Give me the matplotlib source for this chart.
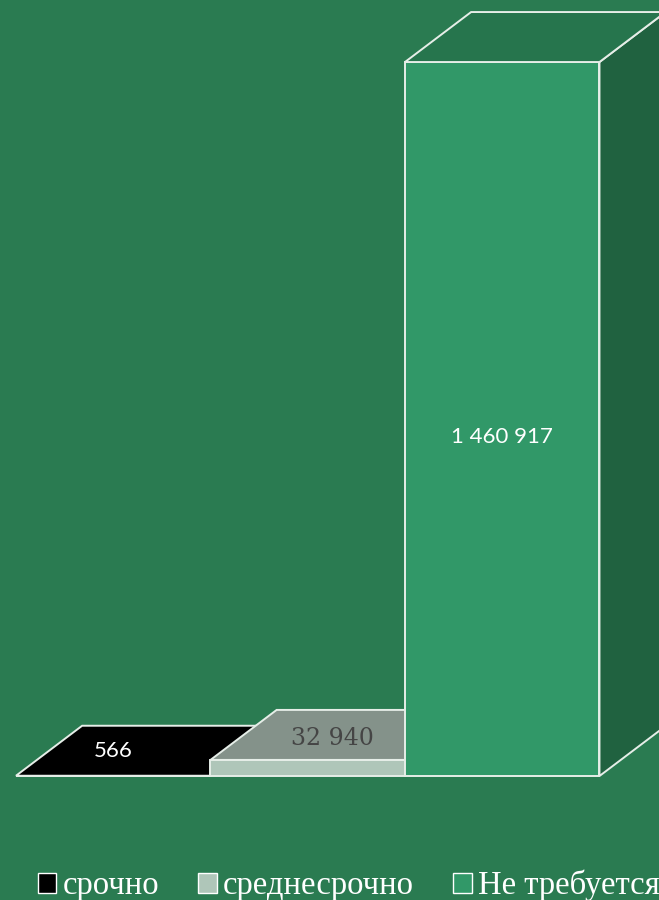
import matplotlib.pyplot as plt
from matplotlib.patches import Polygon, Patch

# data
categories = ["срочно", "среднесрочно", "Не требуется"]
values = [566, 32940, 1460917]
labels = ["566", "32 940", "1 460 917"]

front_colors = ["#000000", "#afc6b9", "#319868"]
top_colors = ["#000000", "#84928a", "#26754d"]
side_colors = ["#000000", "#8a9a90", "#206240"]
label_colors = ["white", "#454545", "white"]

bg = "#2a7b51"
edge = "#e6eee8"

fig = plt.figure(figsize=(6.59, 9), dpi=100)
fig.patch.set_facecolor(bg)
ax = fig.add_axes([0, 0, 1, 1])
ax.set_facecolor(bg)
ax.set_xlim(-0.0823, 3.306)
ax.set_ylim(-253700, 1587850)
ax.axis("off")

# depth of the 3d effect in data units
dx = 0.34
dy = 102300

for i, v in enumerate(values):
    x0, x1 = i, i + 1
    ax.bar(x0, v, width=1, align="edge", color=front_colors[i],
           edgecolor=edge, linewidth=1.4, zorder=3 * i + 1)
    top = Polygon([(x0, v), (x1, v), (x1 + dx, v + dy), (x0 + dx, v + dy)],
                  closed=True, facecolor=top_colors[i], edgecolor=edge,
                  linewidth=1.4, zorder=3 * i + 2)
    ax.add_patch(top)
    side = Polygon([(x1, 0), (x1 + dx, dy), (x1 + dx, v + dy), (x1, v)],
                   closed=True, facecolor=side_colors[i], edgecolor=edge,
                   linewidth=1.4, zorder=3 * i)
    ax.add_patch(side)

ax.text(0.5, values[0] + dy / 2, labels[0], color=label_colors[0],
        fontsize=16, family="Lato", ha="center", va="center", zorder=20)
ax.text(1.5 + dx * 0.37, values[1] + dy * 0.42, labels[1], color=label_colors[1],
        fontsize=17, family="DejaVu Serif", ha="center", va="center", zorder=20)
ax.text(2.5, values[2] * 0.475, labels[2], color=label_colors[2],
        fontsize=16, family="Lato", ha="center", va="center", zorder=20)

handles = [Patch(facecolor=c, edgecolor="white", linewidth=1.0) for c in front_colors]
leg = fig.legend(handles, categories, loc="center", bbox_to_anchor=(0.529, 0.016),
                 ncol=3, frameon=False, handlelength=0.58, handleheight=0.58,
                 handletextpad=0.18, columnspacing=1.2,
                 prop={"family": "Liberation Serif", "size": 23.5})
for t in leg.get_texts():
    t.set_color("white")

fig.savefig("out.png", dpi=100, facecolor=bg)
